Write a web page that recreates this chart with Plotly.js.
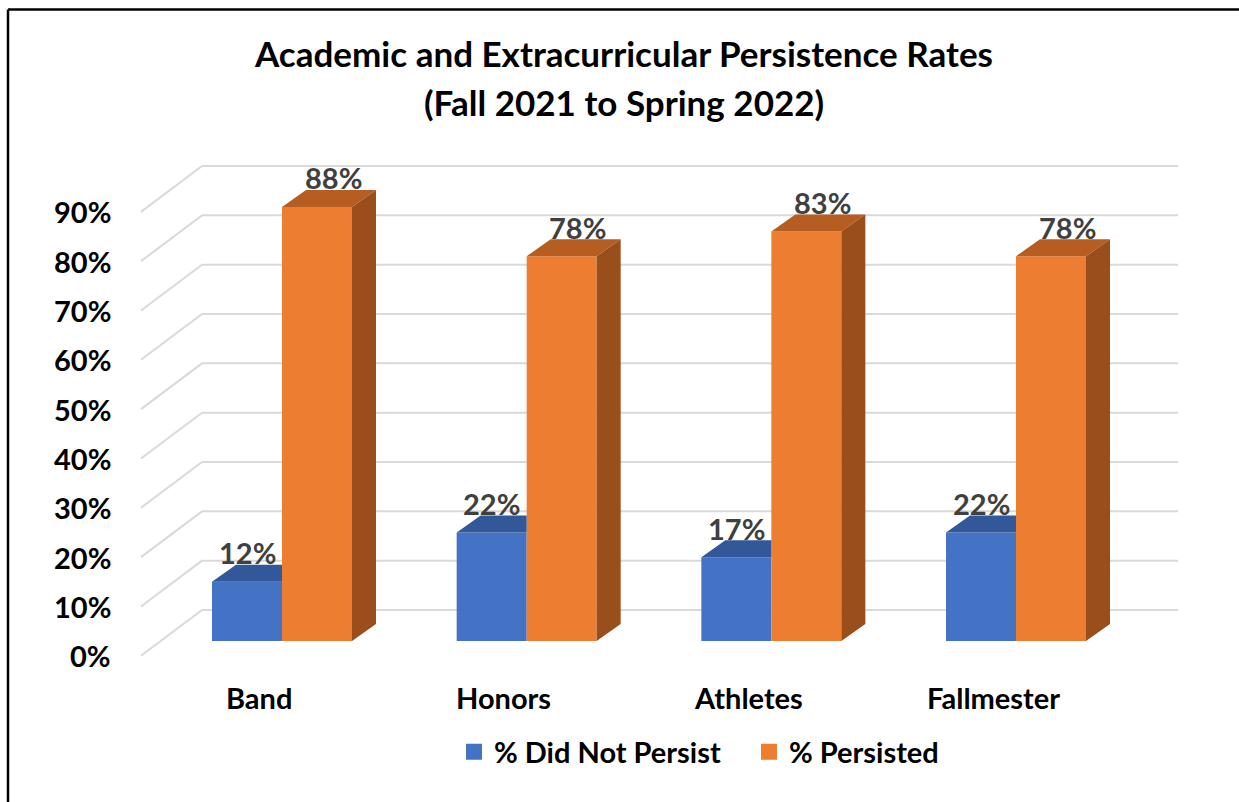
<!DOCTYPE html>
<html>
<head>
<meta charset="utf-8">
<script src="https://cdn.plot.ly/plotly-3.0.1.min.js"></script>
<style>html,body{margin:0;padding:0;background:#fff;}#chart{width:1239px;height:802px;}</style>
</head>
<body>
<div id="chart"></div>
<script>
// ---- data ----
const categories = ['Band', 'Honors', 'Athletes', 'Fallmester'];
const seriesNames = ['% Did Not Persist', '% Persisted'];
const didNotPersist = [12, 22, 17, 22];
const persisted = [88, 78, 83, 78];
const tickValues = [0, 10, 20, 30, 40, 50, 60, 70, 80, 90];
const tickLabels = tickValues.map(v => v + '%');
const titleLine1 = 'Academic and Extracurricular Persistence Rates';
const titleLine2 = '(Fall 2021 to Spring 2022)';

// ---- geometry (pixel-based styling constants) ----
const W = 1239, H = 802;
const X0PX = 282, GROUP_PX = 244.67;   // pixel of first group centre, pixels per category
const Y0PX = 641, PPU = 4.933;         // pixel of 0%, pixels per percent
const px2x = p => (p - X0PX) / GROUP_PX;
const BAR_W = 70 / GROUP_PX;
const DX = 24 / GROUP_PX, DY = 17 / PPU;        // bar depth
const BACK_DY = 31 / PPU;                        // back wall offset
const FRONT_DY = -3.0;                           // front label plane offset
const GRID_X0 = px2x(202), GRID_X1 = px2x(1178), DIAG_X0 = px2x(141);

const FONT = 'Lato, "Open Sans", sans-serif';
const FS = 29, TITLE_FS = 35;
const BLUE = '#4472C4', BLUE_TOP = '#335899';
const ORANGE = '#ED7D31', ORANGE_TOP = '#B65E21', ORANGE_SIDE = '#9A4E1C';
const GRID = '#d9d9d9';

const xIdx = categories.map((c, i) => i);

// front faces
const traces = [
  {type: 'bar', x: xIdx, y: didNotPersist, width: BAR_W, offset: -BAR_W,
   marker: {color: BLUE, line: {width: 0}}, showlegend: false, hoverinfo: 'skip', name: seriesNames[0]},
  {type: 'bar', x: xIdx, y: persisted, width: BAR_W, offset: 0,
   marker: {color: ORANGE, line: {width: 0}}, showlegend: false, hoverinfo: 'skip', name: seriesNames[1]}
];

// top & side faces built from the values
const bx = [], by = [], ox = [], oy = [], sx = [], sy = [];
xIdx.forEach(i => {
  const vb = didNotPersist[i], vo = persisted[i];
  const b0 = i - BAR_W, b1 = i;
  // blue top (clipped by orange front face)
  bx.push(b0, b1, b1, b0 + DX, b0, null);
  by.push(vb, vb, vb + DY, vb + DY, vb, null);
  const o0 = i, o1 = i + BAR_W;
  ox.push(o0, o1, o1 + DX, o0 + DX, o0, null);
  oy.push(vo, vo, vo + DY, vo + DY, vo, null);
  sx.push(o1, o1 + DX, o1 + DX, o1, o1, null);
  sy.push(0, DY, vo + DY, vo, 0, null);
});
traces.push({type: 'scatter', mode: 'none', x: bx, y: by, fill: 'toself', fillcolor: BLUE_TOP, showlegend: false, hoverinfo: 'skip'});
traces.push({type: 'scatter', mode: 'none', x: ox, y: oy, fill: 'toself', fillcolor: ORANGE_TOP, showlegend: false, hoverinfo: 'skip'});
traces.push({type: 'scatter', mode: 'none', x: sx, y: sy, fill: 'toself', fillcolor: ORANGE_SIDE, showlegend: false, hoverinfo: 'skip'});

// legend entries
traces.push({type: 'scatter', mode: 'markers', x: [null], y: [null], name: seriesNames[0],
  marker: {symbol: 'square', size: 18, color: BLUE}});
traces.push({type: 'scatter', mode: 'markers', x: [null], y: [null], name: seriesNames[1],
  marker: {symbol: 'square', size: 18, color: ORANGE}});

// gridlines on back wall and left wall
const shapes = [];
tickValues.forEach(v => {
  shapes.push({type: 'line', layer: 'below', xref: 'x', yref: 'y',
    x0: GRID_X0, x1: GRID_X1, y0: v + BACK_DY, y1: v + BACK_DY, line: {color: GRID, width: 2}});
  shapes.push({type: 'line', layer: 'below', xref: 'x', yref: 'y',
    x0: DIAG_X0, x1: GRID_X0, y0: v + FRONT_DY, y1: v + BACK_DY, line: {color: GRID, width: 2}});
});
// outer frame (top and left edges visible)
shapes.push({type: 'line', xref: 'paper', yref: 'paper', x0: 8 / W, x1: 1, y0: 1 - 9.5 / H, y1: 1 - 9.5 / H,
  line: {color: '#000', width: 2.5}});
shapes.push({type: 'line', xref: 'paper', yref: 'paper', x0: 8 / W, x1: 8 / W, y0: 0, y1: 1 - 9.5 / H,
  line: {color: '#000', width: 2.5}});

const annotations = [];
// y tick labels
tickValues.forEach((v, k) => {
  annotations.push({x: px2x(113), y: v + FRONT_DY, xref: 'x', yref: 'y', text: tickLabels[k],
    showarrow: false, xanchor: 'right', yanchor: 'middle',
    font: {family: FONT, size: FS, weight: 700, color: '#000'}});
});
// category labels
categories.forEach((c, i) => {
  annotations.push({x: i, y: -56 / PPU, xref: 'x', yref: 'y', xshift: -23, text: c,
    showarrow: false, xanchor: 'center', yanchor: 'middle',
    font: {family: FONT, size: FS, weight: 700, color: '#000'}});
});
// data labels
xIdx.forEach(i => {
  annotations.push({x: i - BAR_W / 2, y: didNotPersist[i] + DY, xref: 'x', yref: 'y', yshift: 12,
    text: didNotPersist[i] + '%', showarrow: false, xanchor: 'center', yanchor: 'middle',
    font: {family: FONT, size: FS, weight: 700, color: '#404040'}});
  annotations.push({x: i + BAR_W / 2, y: persisted[i] + DY, xref: 'x', yref: 'y', xshift: 16, yshift: 12,
    text: persisted[i] + '%', showarrow: false, xanchor: 'center', yanchor: 'middle',
    font: {family: FONT, size: FS, weight: 700, color: '#404040'}});
});
// second title line
annotations.push({x: 624 / W, y: 1 - 102 / H, xref: 'paper', yref: 'paper', text: titleLine2,
  showarrow: false, xanchor: 'center', yanchor: 'middle',
  font: {family: FONT, size: TITLE_FS, weight: 700, color: '#000'}});

const layout = {
  width: W, height: H,
  margin: {l: 0, r: 0, t: 0, b: 0, pad: 0},
  paper_bgcolor: '#fff', plot_bgcolor: '#fff',
  title: {text: titleLine1, x: 624 / W, xanchor: 'center', y: 1 - 55 / H, yanchor: 'middle',
    font: {family: FONT, size: TITLE_FS, weight: 700, color: '#000'}},
  barmode: 'overlay',
  xaxis: {range: [px2x(0), px2x(W)], visible: false, fixedrange: true},
  yaxis: {range: [-(H - Y0PX) / PPU, Y0PX / PPU], visible: false, fixedrange: true},
  showlegend: true,
  legend: {orientation: 'h', x: 454 / W, xanchor: 'left', y: 1 - 752 / H, yanchor: 'middle',
    font: {family: FONT, size: FS, weight: 700, color: '#000'}, itemsizing: 'trace',
    entrywidth: 250, entrywidthmode: 'pixels',
    bgcolor: 'rgba(0,0,0,0)', borderwidth: 0, tracegroupgap: 0},
  shapes: shapes,
  annotations: annotations,
  hovermode: false
};

Plotly.newPlot('chart', traces, layout, {displayModeBar: false, staticPlot: true});
</script>
</body>
</html>
